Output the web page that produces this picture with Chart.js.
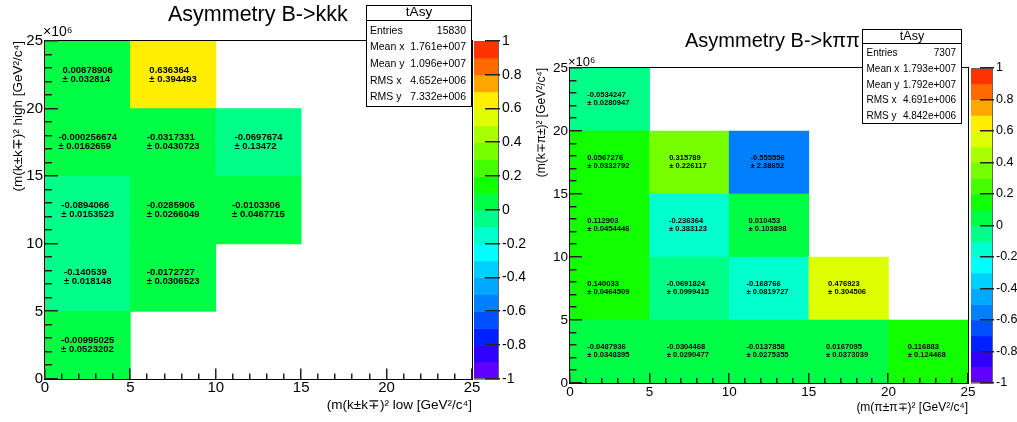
<!DOCTYPE html>
<html><head><meta charset="utf-8">
<script src="https://cdn.jsdelivr.net/npm/chart.js@4/dist/chart.umd.min.js"></script>
<style>
html,body{margin:0;padding:0;background:#fff;width:1017px;height:422px;overflow:hidden;}
.pane{position:absolute;top:0;height:422px;}
canvas{display:block;}
</style></head><body>
<div class="pane" style="left:0;width:535px"><canvas id="c1" width="535" height="422"></canvas></div>
<div class="pane" style="left:520px;width:497px"><canvas id="c2" width="497" height="422"></canvas></div>
<script>
// ---------------- data (bin edges in units of 10^6 GeV^2/c^4) ----------------
const xEdges = [0, 5, 10, 15, 20, 25];
const yEdges = [0, 5, 10, 15, 20, 25];

// rows = y bins from bottom (0-5) to top (20-25); columns = x bins
const kkkAsym = [
  [-0.00995025, null, null, null, null],
  [-0.140539, -0.0172727, null, null, null],
  [-0.0894066, -0.0285906, -0.0103306, null, null],
  [-0.000256674, -0.0317331, -0.0697674, null, null],
  [0.00878906, 0.636364, null, null, null]
];
const kkkErr = [
  [0.0523202, null, null, null, null],
  [0.018148, 0.0306523, null, null, null],
  [0.0153523, 0.0266049, 0.0467715, null, null],
  [0.0162659, 0.0430723, 0.13472, null, null],
  [0.032814, 0.394493, null, null, null]
];
const kpipiAsym = [
  [-0.0487936, -0.0304468, -0.0137858, 0.0167095, 0.116883],
  [0.140033, -0.0691824, -0.168766, 0.476923, null],
  [0.112903, -0.236364, 0.010453, null, null],
  [0.0567276, 0.315789, -0.555556, null, null],
  [-0.0534247, null, null, null, null]
];
const kpipiErr = [
  [0.0348395, 0.0290477, 0.0275355, 0.0373039, 0.124468],
  [0.0464509, 0.0999415, 0.0819727, 0.304506, null],
  [0.0454446, 0.383123, 0.103898, null, null],
  [0.0332792, 0.226117, 2.38652, null, null],
  [0.0280947, null, null, null, null]
];
const statLabels = ['Entries', 'Mean x', 'Mean y', 'RMS x', 'RMS y'];
const kkkStats = ['15830', '1.761e+007', '1.096e+007', '4.652e+006', '7.332e+006'];
const kpipiStats = ['7307', '1.793e+007', '1.792e+007', '4.691e+006', '4.842e+006'];

// ---------------- styles ----------------
const FONT = '"Liberation Sans", Arial, Helvetica, sans-serif';
const PALETTE = ['#6000ff','#3000ff','#0020ff','#0050ff','#0080ff','#00a8ff','#00d0ff','#00ffff','#00ffcc','#00ff88',
                 '#00ff44','#11ff00','#44ff00','#77ff00','#a8ff00','#ddff00','#ffee00','#ffa500','#ff6a00','#ff3300'];
function band(v){ return Math.max(0, Math.min(19, Math.round((v + 1) * 10))); }

function buildDatasets(asym, err){
  return asym.map((row, r) => ({
    label: 'row' + r,
    xAxisID: 'x', yAxisID: 'y',
    data: row.map((v, c) => v === null ? null : {
      x: (xEdges[c] + xEdges[c + 1]) / 2, y: [yEdges[r], yEdges[r + 1]], v: v, e: err[r][c]
    }).filter(d => d !== null),
    backgroundColor: ctx => (ctx.raw ? PALETTE[band(ctx.raw.v)] : '#ffffff'),
    borderWidth: 0, grouped: false, categoryPercentage: 1, barPercentage: 1
  }));
}

function makeChart(id, g, asym, err, stats, title, xTitle, yTitle){
  const lh = g.titleFont * 1.2;
  const cellPlugin = {
    id: 'cellText',
    afterDatasetsDraw(chart){
      const ctx = chart.ctx, xs = chart.scales.x, ys = chart.scales.y;
      ctx.save();
      ctx.fillStyle = '#000';
      ctx.font = 'bold ' + g.cellFont + 'px ' + FONT;
      ctx.textBaseline = 'middle';
      ctx.textAlign = 'left';
      chart.data.datasets.forEach(ds => ds.data.forEach(d => {
        const cx = xs.getPixelForValue(d.x);
        const cy = (ys.getPixelForValue(d.y[0]) + ys.getPixelForValue(d.y[1])) / 2;
        const l1 = String(d.v), l2 = '\u00b1 ' + String(d.e);
        const w = Math.max(ctx.measureText(l1).width, ctx.measureText(l2).width);
        const x0 = cx - w / 2 + g.cellDx;
        ctx.fillText(l1, x0, cy + g.cellDy[0]);
        ctx.fillText(l2, x0, cy + g.cellDy[1]);
      }));
      ctx.restore();
    }
  };
  const decorPlugin = {
    id: 'decor',
    afterDraw(chart){
      const ctx = chart.ctx, a = chart.chartArea;
      const xs = chart.scales.x, ys = chart.scales.y, zs = chart.scales.z;
      const L = Math.round(a.left), R = Math.round(a.right), T = Math.round(a.top), B = Math.round(a.bottom);
      const TW = 1.5;
      ctx.save();
      ctx.globalAlpha = 1;
      // colour bar
      for (let b = 0; b < 20; b++){
        const y1 = zs.getPixelForValue(-1 + 0.1 * b), y2 = zs.getPixelForValue(-1 + 0.1 * (b + 1));
        ctx.fillStyle = PALETTE[b];
        ctx.fillRect(R + g.cb0, y2, g.cb1 - g.cb0, y1 - y2 + 0.5);
      }
      ctx.fillStyle = '#666';
      ctx.fillRect(R + g.cb0, T, g.cb1 - g.cb0, 1);
      ctx.fillRect(R + g.cb0, B - 1, g.cb1 - g.cb0, 1);
      ctx.fillRect(R + g.cb1 - 1, T, 1, B - T);
      ctx.fillStyle = '#222';
      for (let k = 0; k <= 10; k++){
        const y = Math.round(zs.getPixelForValue(-1 + 0.2 * k));
        ctx.fillRect(R + g.cb1 - g.cbTick, y - 1, g.cbTick + 1, TW);
      }
      // frame
      ctx.fillStyle = '#000';
      ctx.fillRect(L - 1, T - 1, R - L + 2, 1);
      ctx.fillRect(L - 1, B, R - L + 2, 1);
      ctx.fillRect(L - 1, T - 1, 1, B - T + 2);
      ctx.fillRect(R, T - 1, 1, B - T + 2);
      // inward ticks
      ctx.fillStyle = '#222';
      for (let v = 0; v <= 25; v++){
        const major = v % 5 === 0;
        const y = Math.round(ys.getPixelForValue(v));
        ctx.fillRect(L, y - 1, major ? g.yMaj : g.yMin, TW);
        const x = Math.round(xs.getPixelForValue(v));
        const len = major ? g.xMaj : g.xMin;
        ctx.fillRect(x - 1, B - len, TW, len);
      }
      ctx.fillStyle = '#000';
      // exponent label
      ctx.font = g.expFont + 'px ' + FONT;
      ctx.textAlign = 'left'; ctx.textBaseline = 'middle';
      ctx.fillText('\u00d710\u2076', g.expX, g.expY);
      // main title
      ctx.font = g.mainFont + 'px ' + FONT;
      ctx.textBaseline = 'alphabetic';
      ctx.fillText(title, g.mainX, g.mainY);
      // stats box
      const s = g.stats;
      ctx.fillStyle = '#fff';
      ctx.fillRect(s.x0, s.y0, s.x1 - s.x0, s.y1 - s.y0);
      ctx.fillStyle = '#000';
      ctx.fillRect(s.x0, s.y0, s.x1 - s.x0, 1);
      ctx.fillRect(s.x0, s.y1 - 1, s.x1 - s.x0, 1);
      ctx.fillRect(s.x0, s.y0, 1, s.y1 - s.y0);
      ctx.fillRect(s.x1 - 1, s.y0, 1, s.y1 - s.y0);
      ctx.fillRect(s.x0, s.lineY, s.x1 - s.x0, 1);
      ctx.font = s.titleFont + 'px ' + FONT;
      ctx.textAlign = 'center'; ctx.textBaseline = 'middle';
      ctx.fillText('tAsy', (s.x0 + s.x1) / 2, s.titleY);
      ctx.font = s.font + 'px ' + FONT;
      statLabels.forEach((lab, i) => {
        const y = s.rowY0 + i * s.rowDy;
        ctx.textAlign = 'left'; ctx.fillText(lab, s.labX, y);
        ctx.textAlign = 'right'; ctx.fillText(stats[i], s.valX, y);
      });
      ctx.restore();
    }
  };
  return new Chart(document.getElementById(id), {
    type: 'bar',
    data: { datasets: buildDatasets(asym, err) },
    options: {
      responsive: false, animation: false, devicePixelRatio: 1,
      layout: { padding: { top: g.t, left: 0, right: 0, bottom: 0 } },
      plugins: { legend: { display: false }, tooltip: { enabled: false }, title: { display: false } },
      scales: {
        x: {
          type: 'linear', min: 0, max: 25, offset: false,
          grid: { display: false, drawTicks: false, offset: false },
          border: { display: true, color: '#000', width: 1 },
          ticks: { stepSize: 5, autoSkip: false, maxRotation: 0, padding: g.xTickPad, color: '#000', font: { family: FONT, size: g.tickFont } },
          title: { display: true, text: xTitle, align: 'end', color: '#000', font: { family: FONT, size: g.titleFont },
                   padding: { top: 0, bottom: 422 - lh / 2 - g.xTitleY } },
          afterFit: s => { s.height = 422 - g.b; }
        },
        y: {
          type: 'linear', min: 0, max: 25, position: 'left',
          grid: { display: false, drawTicks: false },
          border: { display: true, color: '#000', width: 1 },
          ticks: { stepSize: 5, autoSkip: false, padding: g.yTickPad, color: '#000', font: { family: FONT, size: g.tickFont } },
          title: { display: true, text: yTitle, align: 'end', color: '#000', font: { family: FONT, size: g.titleFont },
                   padding: { top: g.yTitleX - lh / 2, bottom: 0 } },
          afterFit: s => { s.width = g.l; }
        },
        z: {
          axis: 'y', type: 'linear', position: 'right', min: -1, max: 1,
          grid: { display: false, drawTicks: false },
          border: { display: false },
          ticks: { stepSize: 0.2, autoSkip: false, padding: g.zPad, color: '#000', font: { family: FONT, size: g.zFont },
                   callback: v => String(Math.round(v * 10) / 10) },
          afterFit: s => { s.width = g.W - g.r; }
        }
      }
    },
    plugins: [cellPlugin, decorPlugin]
  });
}

const G1 = {
  W: 535, l: 45, r: 472, t: 41, b: 379,
  tickFont: 15, xTickPad: 0, yTickPad: 2, titleFont: 13.5, xTitleY: 405, yTitleX: 18,
  zFont: 14, zPad: 30, cb0: 2, cb1: 27, cbTick: 14,
  yMaj: 13, yMin: 7, xMaj: 10.5, xMin: 5.5,
  cellFont: 9.5, cellDx: 0, cellDy: [-4.8, 4.2],
  expFont: 14, expX: 43, expY: 32, mainFont: 21.5, mainX: 168, mainY: 21,
  stats: { x0: 366, x1: 472, y0: 5, y1: 107, lineY: 20, titleY: 12.5, titleFont: 13.5, font: 10.5,
           rowY0: 30.7, rowDy: 16.65, labX: 370, valX: 466 }
};
const G2 = {
  W: 497, l: 50, r: 448, t: 68, b: 383,
  tickFont: 13.5, xTickPad: 1, yTickPad: 2, titleFont: 12, xTitleY: 408, yTitleX: 21.5,
  zFont: 12.5, zPad: 28, cb0: 3, cb1: 25, cbTick: 13,
  yMaj: 12, yMin: 6.5, xMaj: 10, xMin: 5,
  cellFont: 7.6, cellDx: -1.5, cellDy: [-5, 3.5],
  expFont: 13, expX: 48, expY: 62, mainFont: 20, mainX: 165, mainY: 47,
  stats: { x0: 342, x1: 442, y0: 29, y1: 124, lineY: 43, titleY: 36.5, titleFont: 12.5, font: 10,
           rowY0: 53.5, rowDy: 15.7, labX: 346.5, valX: 436 }
};

makeChart('c1', G1, kkkAsym, kkkErr, kkkStats, 'Asymmetry B->kkk',
  '(m(k\u00b1k\u2213)\u00b2 low [GeV\u00b2/c\u2074]', '(m(k\u00b1k\u2213)\u00b2 high [GeV\u00b2/c\u2074]');
makeChart('c2', G2, kpipiAsym, kpipiErr, kpipiStats, 'Asymmetry B->k\u03c0\u03c0',
  '(m(\u03c0\u00b1\u03c0\u2213)\u00b2 [GeV\u00b2/c\u2074]', '(m(k\u2213\u03c0\u00b1)\u00b2 [GeV\u00b2/c\u2074]');
</script>
</body></html>
